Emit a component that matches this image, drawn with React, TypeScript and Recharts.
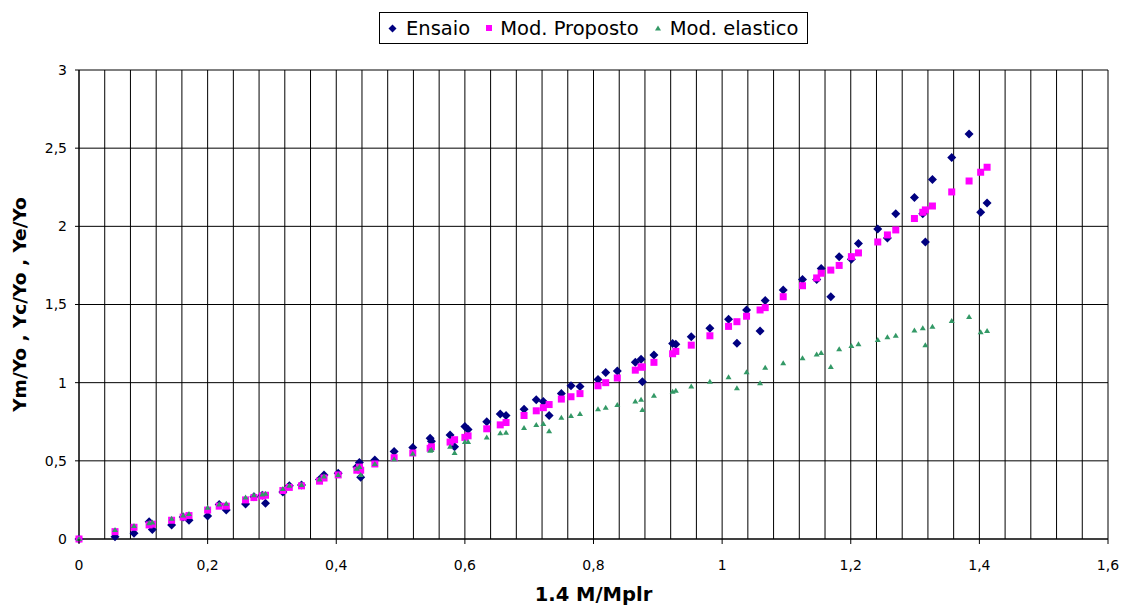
import React from 'react';
import { ScatterChart, Scatter, XAxis, YAxis, CartesianGrid, Label } from 'recharts';

// ---- data ----
const xValues = [
  0, 0.056, 0.0855, 0.109, 0.114, 0.144, 0.162, 0.171, 0.2, 0.218, 0.229, 0.259, 0.272, 0.285, 0.29,
  0.317, 0.327, 0.346, 0.374, 0.381, 0.403, 0.432, 0.436, 0.438, 0.46, 0.49, 0.519, 0.546, 0.548,
  0.577, 0.584, 0.6, 0.605, 0.634, 0.655, 0.664, 0.692, 0.711, 0.722, 0.731, 0.75, 0.765, 0.779,
  0.807, 0.819, 0.837, 0.865, 0.874, 0.876, 0.894, 0.923, 0.928, 0.952, 0.981, 1.01, 1.023, 1.038,
  1.059, 1.067, 1.095, 1.125, 1.147, 1.154, 1.169, 1.182, 1.201, 1.212, 1.242, 1.257, 1.27, 1.299,
  1.312, 1.316, 1.327, 1.357, 1.384, 1.402, 1.412,
];
const ensaio = [
  0, 0.015, 0.036, 0.11, 0.06, 0.09, 0.14, 0.12, 0.147, 0.22, 0.185, 0.224, 0.27, 0.28, 0.228,
  0.3, 0.34, 0.345, 0.38, 0.41, 0.42, 0.46, 0.49, 0.395, 0.505, 0.56, 0.585, 0.645, 0.625,
  0.665, 0.59, 0.72, 0.7, 0.75, 0.8, 0.79, 0.83, 0.89, 0.88, 0.79, 0.93, 0.98, 0.975,
  1.02, 1.065, 1.075, 1.13, 1.15, 1.006, 1.177, 1.25, 1.245, 1.294, 1.348, 1.405, 1.252, 1.465,
  1.33, 1.525, 1.593, 1.66, 1.66, 1.73, 1.55, 1.806, 1.79, 1.89, 1.983, 1.925, 2.08, 2.184,
  2.08, 1.9, 2.3, 2.44, 2.59, 2.09, 2.15,
];
const proposto = [
  0, 0.047, 0.075, 0.09, 0.095, 0.12, 0.14, 0.15, 0.185, 0.21, 0.21, 0.25, 0.265, 0.275, 0.28,
  0.31, 0.33, 0.34, 0.37, 0.39, 0.41, 0.44, 0.46, 0.44, 0.48, 0.52, 0.55, 0.58, 0.59,
  0.62, 0.635, 0.65, 0.66, 0.705, 0.73, 0.745, 0.79, 0.82, 0.84, 0.86, 0.895, 0.91, 0.93,
  0.98, 1.0, 1.03, 1.08, 1.1, 1.1, 1.13, 1.185, 1.2, 1.24, 1.3, 1.36, 1.39, 1.425,
  1.465, 1.48, 1.55, 1.62, 1.67, 1.7, 1.72, 1.75, 1.806, 1.83, 1.9, 1.945, 1.977, 2.05,
  2.09, 2.105, 2.13, 2.22, 2.29, 2.346, 2.378,
];
const elastico = [
  0, 0.058, 0.083, 0.1, 0.105, 0.13, 0.15, 0.16, 0.2, 0.22, 0.225, 0.265, 0.28, 0.285, 0.29,
  0.32, 0.34, 0.345, 0.38, 0.4, 0.41, 0.45, 0.46, 0.41, 0.48, 0.51, 0.545, 0.565, 0.57,
  0.59, 0.55, 0.62, 0.62, 0.65, 0.676, 0.68, 0.71, 0.73, 0.735, 0.69, 0.775, 0.787, 0.8,
  0.83, 0.84, 0.857, 0.88, 0.89, 0.825, 0.917, 0.942, 0.948, 0.975, 1.006, 1.035, 0.964, 1.067,
  0.996, 1.096, 1.124, 1.156, 1.18, 1.19, 1.1, 1.214, 1.235, 1.245, 1.273, 1.29, 1.3, 1.333,
  1.348, 1.24, 1.358, 1.395, 1.42, 1.322, 1.33,
];

const xMajorTicks = [0, 0.2, 0.4, 0.6, 0.8, 1, 1.2, 1.4, 1.6];
const xMajorLabels = ['0', '0,2', '0,4', '0,6', '0,8', '1', '1,2', '1,4', '1,6'];
const xGridTicks = Array.from({ length: 41 }, (_, i) => +(i * 0.04).toFixed(2));
const yTicks = [0, 0.5, 1, 1.5, 2, 2.5, 3];
const yTickLabels = ['0', '0,5', '1', '1,5', '2', '2,5', '3'];

const seriesNames = ['Ensaio', 'Mod. Proposto', 'Mod. elastico'];
const NAVY = '#000080';
const MAGENTA = '#FF00FF';
const GREEN = '#339966';
const FONT = "'DejaVu Sans', 'Liberation Sans', Arial, sans-serif";

const ensaioData = xValues.map((x, i) => ({ x, y: ensaio[i] }));
const propostoData = xValues.map((x, i) => ({ x, y: proposto[i] }));
const elasticoData = xValues.map((x, i) => ({ x, y: elastico[i] }));

// ---- marker shapes ----
const DiamondShape = (p: any) => {
  const { cx, cy } = p;
  if (cx == null || cy == null) return <g />;
  const r = 4.5;
  return <polygon points={`${cx},${cy - r} ${cx + r},${cy} ${cx},${cy + r} ${cx - r},${cy}`} fill={NAVY} />;
};
const SquareShape = (p: any) => {
  const { cx, cy } = p;
  if (cx == null || cy == null) return <g />;
  const r = 3.5;
  return <rect x={cx - r} y={cy - r} width={2 * r} height={2 * r} fill={MAGENTA} />;
};
const TriangleShape = (p: any) => {
  const { cx, cy } = p;
  if (cx == null || cy == null) return <g />;
  return <polygon points={`${cx},${cy - 3} ${cx + 3},${cy + 2} ${cx - 3},${cy + 2}`} fill={GREEN} />;
};

const renderXTick = (props: any) => {
  const { x, y, payload } = props;
  const idx = xMajorTicks.findIndex((m) => Math.abs(m - payload.value) < 1e-6);
  if (idx < 0) return <g />;
  return (
    <g>
      <line x1={x} x2={x} y1={y} y2={y + 5} stroke="#000" />
      <text x={x} y={y + 31} textAnchor="middle" fontSize={14} fontFamily={FONT} fill="#000">
        {xMajorLabels[idx]}
      </text>
    </g>
  );
};

const yFormatter = (v: number) => {
  const i = yTicks.findIndex((t) => Math.abs(t - v) < 1e-6);
  return i >= 0 ? yTickLabels[i] : String(v).replace('.', ',');
};

const YTitle = (props: any) => {
  const { viewBox } = props;
  const cx = viewBox.x + 19;
  const cy = viewBox.y + viewBox.height / 2;
  return (
    <text
      x={cx}
      y={cy}
      transform={`rotate(-90 ${cx} ${cy})`}
      textAnchor="middle"
      dominantBaseline="central"
      fontSize={18.5}
      fontWeight="bold"
      fontFamily={FONT}
      fill="#000"
    >
      Ym/Yo , Yc/Yo , Ye/Yo
    </text>
  );
};

const XTitle = (props: any) => {
  const { viewBox } = props;
  return (
    <text
      x={viewBox.x + viewBox.width / 2}
      y={viewBox.y + 62}
      textAnchor="middle"
      fontSize={19.5}
      fontWeight="bold"
      fontFamily={FONT}
      fill="#000"
    >
      1.4 M/Mplr
    </text>
  );
};

const LegendBox = () => (
  <div
    style={{
      position: 'absolute',
      left: 379,
      top: 12,
      width: 429,
      height: 32,
      boxSizing: 'border-box',
      border: '1px solid #000',
      background: '#fff',
      display: 'flex',
      alignItems: 'center',
      paddingLeft: 8,
      fontFamily: FONT,
      fontSize: 19.5,
      color: '#000',
      whiteSpace: 'nowrap',
    }}
  >
    <svg width={9} height={9} style={{ marginRight: 9 }}>
      <polygon points="4.5,0.5 8.5,4.5 4.5,8.5 0.5,4.5" fill={NAVY} />
    </svg>
    <span>{seriesNames[0]}</span>
    <svg width={8} height={8} style={{ marginLeft: 15, marginRight: 7 }}>
      <rect x={1} y={1} width={6} height={6} fill={MAGENTA} />
    </svg>
    <span>{seriesNames[1]}</span>
    <svg width={8} height={8} style={{ marginLeft: 15, marginRight: 8 }}>
      <polygon points="4,1.5 7,6.5 1,6.5" fill={GREEN} />
    </svg>
    <span>{seriesNames[2]}</span>
  </div>
);

export default function App() {
  return (
    <div style={{ position: 'absolute', left: 0, top: 0, width: 1122, height: 608, background: '#fff' }}>
      <ScatterChart width={1122} height={608} margin={{ top: 70, right: 14, bottom: 0, left: 0 }}>
        <CartesianGrid stroke="#000" strokeWidth={1} />
        <XAxis
          type="number"
          dataKey="x"
          domain={[0, 1.6]}
          ticks={xGridTicks}
          interval={0}
          tick={renderXTick}
          tickLine={false}
          tickSize={0}
          tickMargin={0}
          axisLine={{ stroke: '#000' }}
          height={69}
        >
          <Label content={XTitle} />
        </XAxis>
        <YAxis
          type="number"
          dataKey="y"
          domain={[0, 3]}
          ticks={yTicks}
          interval={0}
          tickFormatter={yFormatter}
          tick={{ fill: '#000', fontSize: 14, fontFamily: FONT }}
          tickLine={{ stroke: '#000' }}
          tickSize={4}
          tickMargin={8}
          axisLine={{ stroke: '#000' }}
          width={79}
        >
          <Label content={YTitle} />
        </YAxis>
        <Scatter name={seriesNames[0]} data={ensaioData} shape={DiamondShape} isAnimationActive={false} />
        <Scatter name={seriesNames[1]} data={propostoData} shape={SquareShape} isAnimationActive={false} />
        <Scatter name={seriesNames[2]} data={elasticoData} shape={TriangleShape} isAnimationActive={false} />
      </ScatterChart>
      <LegendBox />
    </div>
  );
}
